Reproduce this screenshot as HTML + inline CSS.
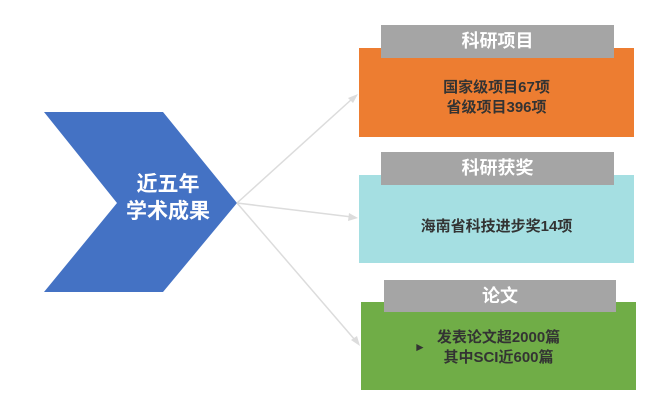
<!DOCTYPE html>
<html><head><meta charset="utf-8"><style>
html,body{margin:0;padding:0;background:#fff;}
body{width:660px;height:414px;position:relative;overflow:hidden;font-family:"Liberation Sans","Noto Sans CJK SC",sans-serif;}
.b{position:absolute;}
.h{position:absolute;background:#a5a5a5;color:#fff;font-weight:bold;font-size:18px;text-align:center;line-height:33px;}
.t{position:absolute;color:#333;font-weight:bold;font-size:15px;text-align:center;line-height:20px;}
</style></head><body>
<svg class="b" style="left:0;top:0" width="660" height="414">
<polygon points="44,112 163,112 237,203 163,292 44,292 117,203" fill="#4472c4"/>
<g stroke="#dcdcdc" stroke-width="1.5" fill="#dcdcdc">
<line x1="237" y1="203" x2="352" y2="99"/>
<polygon points="358,94 348,98 353,103" stroke="none"/>
<line x1="237" y1="203" x2="352" y2="217"/>
<polygon points="358,218 349,213 348,221" stroke="none"/>
<line x1="237" y1="203" x2="355" y2="340"/>
<polygon points="360,346 351,340 357,336" stroke="none"/>
</g>
<text x="168" y="191" fill="#fff" font-size="21" font-weight="bold" text-anchor="middle" font-family="Liberation Sans, Noto Sans CJK SC, sans-serif">近五年</text>
<text x="168" y="218" fill="#fff" font-size="21" font-weight="bold" text-anchor="middle" font-family="Liberation Sans, Noto Sans CJK SC, sans-serif">学术成果</text>
</svg>
<div class="b" style="left:359px;top:48px;width:275px;height:89px;background:#ed7d31"></div>
<div class="h" style="left:381px;top:25px;width:233px;height:33px">科研项目</div>
<div class="t" style="left:359px;top:78px;width:275px">国家级项目67项<br>省级项目396项</div>
<div class="b" style="left:359px;top:175px;width:275px;height:88px;background:#a5dfe2"></div>
<div class="h" style="left:381px;top:152px;width:233px;height:33px">科研获奖</div>
<div class="t" style="left:359px;top:217px;width:275px">海南省科技进步奖14项</div>
<div class="b" style="left:361px;top:302px;width:275px;height:88px;background:#70ad47"></div>
<div class="h" style="left:384px;top:280px;width:232px;height:32px">论文</div>
<div class="t" style="left:361px;top:328px;width:275px">发表论文超2000篇<br>其中SCI近600篇</div>
<div class="b" style="left:414px;top:340px;font-size:12px;color:#333">►</div>
</body></html>
